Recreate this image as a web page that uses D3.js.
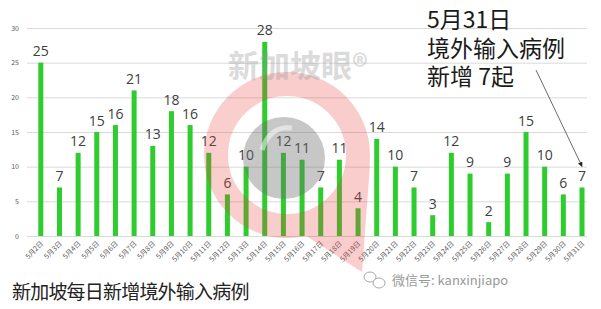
<!DOCTYPE html>
<html>
<head>
<meta charset="utf-8">
<script src="https://cdn.jsdelivr.net/npm/d3@7"></script>
<style>
  body { margin: 0; background: #fff; }
  svg { display: block; }
</style>
</head>
<body>
<svg id="chart" width="601" height="309"></svg>
<script>
// data
const days = ["5月2日", "5月3日", "5月4日", "5月5日", "5月6日", "5月7日", "5月8日", "5月9日", "5月10日", "5月11日",
  "5月12日", "5月13日", "5月14日", "5月15日", "5月16日", "5月17日", "5月18日", "5月19日", "5月20日", "5月21日",
  "5月22日", "5月23日", "5月24日", "5月25日", "5月26日", "5月27日", "5月28日", "5月29日", "5月30日", "5月31日"];
const cases = [25, 7, 12, 15, 16, 21, 13, 18, 16, 12, 6, 10, 28, 12, 11, 7, 11, 4, 14, 10, 7, 3, 12, 9, 2, 9, 15, 10, 6, 7];
const yTicks = [0, 5, 10, 15, 20, 25, 30];
const title = "新加坡每日新增境外输入病例";
const note = ["5月31日", "境外输入病例", "新增 7起"];
const source = "微信号: kanxinjiapo";

const cjk = "'Noto Sans CJK SC', 'Noto Sans', sans-serif";
const svg = d3.select("#chart");

const x = d3.scalePoint().domain(days).range([40.8, 582]);
const y = d3.scaleLinear().domain([0, 30]).range([236, 28]);
const barW = 5;

// gridlines + y labels
const yAxis = g => g
  .attr("transform", "translate(27,0)")
  .call(d3.axisLeft(y).tickValues(yTicks).tickSize(-560).tickPadding(8))
  .call(g => g.select(".domain").remove())
  .call(g => g.selectAll(".tick line").attr("stroke", "#d9d9d9"))
  .call(g => g.selectAll(".tick text")
    .attr("fill", "#595959")
    .attr("font-size", 7)
    .attr("font-family", cjk));
svg.append("g").call(yAxis);

// bars
svg.append("g")
  .attr("fill", "#2ecc2e")
  .selectAll("rect")
  .data(cases)
  .join("rect")
  .attr("x", (d, i) => x(days[i]) - barW / 2)
  .attr("y", d => y(d))
  .attr("width", barW)
  .attr("height", d => y(0) - y(d));

// value labels
svg.append("g")
  .attr("fill", "#404040")
  .attr("font-size", 14)
  .attr("font-family", "'Open Sans', sans-serif")
  .attr("text-anchor", "middle")
  .selectAll("text")
  .data(cases)
  .join("text")
  .attr("x", (d, i) => x(days[i]))
  .attr("y", d => y(d) - 6.5)
  .text(d => d);

// rotated day labels
svg.append("g")
  .attr("fill", "#595959")
  .attr("font-size", 7)
  .attr("font-family", cjk)
  .attr("text-anchor", "end")
  .selectAll("text")
  .data(days)
  .join("text")
  .attr("transform", d => `translate(${x(d) + 3},244) rotate(-45)`)
  .text(d => d);

// watermark (drawn over the bars, semi transparent)
const wm = svg.append("g").attr("pointer-events", "none");
const ring = wm.append("g").attr("opacity", 0.26);
ring.append("circle")
  .attr("cx", 287).attr("cy", 155).attr("r", 71)
  .attr("fill", "none").attr("stroke", "#e8403f").attr("stroke-width", 24);
ring.append("path")
  .attr("d", "M370,165 L362,272 L300,232 Z")
  .attr("fill", "#e8403f");
const q = wm.append("g").attr("opacity", 0.38);
q.append("circle").attr("cx", 284).attr("cy", 158).attr("r", 41).attr("fill", "#6b6b6b");
wm.append("path")
  .attr("d", "M262,150 Q270,125 292,128")
  .attr("fill", "none").attr("stroke", "#fff").attr("stroke-opacity", 0.5).attr("stroke-width", 5);
wm.append("text")
  .attr("x", 228).attr("y", 77)
  .attr("font-size", 31)
  .attr("font-weight", 700)
  .attr("font-family", cjk)
  .attr("fill", "#9a9a9a")
  .attr("opacity", 0.35)
  .text("新加坡眼®");

// annotation
svg.append("g")
  .attr("font-size", 23)
  .attr("font-family", cjk)
  .attr("fill", "#1a1a1a")
  .selectAll("text")
  .data(note)
  .join("text")
  .attr("x", 427)
  .attr("y", (d, i) => [28, 57, 85][i])
  .text(d => d);

svg.append("defs").append("marker")
  .attr("id", "arrow")
  .attr("viewBox", "0 0 10 10")
  .attr("refX", 9).attr("refY", 5)
  .attr("markerWidth", 6).attr("markerHeight", 6)
  .attr("orient", "auto")
  .append("path").attr("d", "M0,0 L10,5 L0,10 Z").attr("fill", "#222");

svg.append("line")
  .attr("x1", 536).attr("y1", 70)
  .attr("x2", x(days[29])).attr("y2", y(cases[29]) - 21)
  .attr("stroke", "#444").attr("stroke-width", 0.8)
  .attr("marker-end", "url(#arrow)");

// bottom title
svg.append("text")
  .attr("x", 12).attr("y", 299)
  .attr("font-size", 19)
  .attr("letter-spacing", -0.8)
  .attr("font-family", cjk)
  .attr("fill", "#222")
  .text(title);

// wechat mark
const wx = svg.append("g").attr("fill", "none").attr("stroke", "#aaa").attr("stroke-width", 1);
wx.append("ellipse").attr("cx", 370).attr("cy", 277).attr("rx", 6).attr("ry", 5);
wx.append("ellipse").attr("cx", 379).attr("cy", 283).attr("rx", 6).attr("ry", 5).attr("fill", "#fff");
svg.append("text")
  .attr("x", 392).attr("y", 285)
  .attr("font-size", 13)
  .attr("font-family", cjk)
  .attr("fill", "#999")
  .text(source);
</script>
</body>
</html>
